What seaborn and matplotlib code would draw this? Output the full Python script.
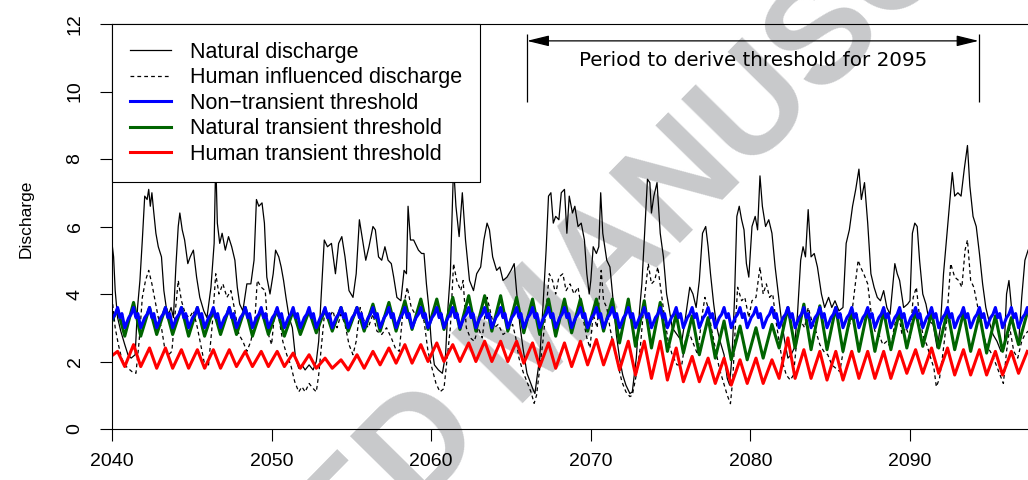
import numpy as np
import pandas as pd
import matplotlib
matplotlib.use("Agg")
import matplotlib.pyplot as plt
from matplotlib.lines import Line2D
import seaborn as sns

# ---------------- data ----------------
years = list(range(2040, 2098))

nat_t = [2040.0, 2040.1, 2040.2, 2040.35, 2040.55, 2040.8, 2041.0, 2041.2, 2041.45, 2041.6, 2041.75, 2041.9,
         2042.05, 2042.2, 2042.3, 2042.4, 2042.5, 2042.6, 2042.75, 2042.9, 2043.1, 2043.25, 2043.4, 2043.55,
         2043.7, 2043.85, 2044.0, 2044.15, 2044.25, 2044.4, 2044.55, 2044.75, 2044.9, 2045.1, 2045.3, 2045.5,
         2045.75, 2045.95, 2046.2, 2046.4, 2046.5, 2046.6, 2046.75, 2046.9, 2047.1, 2047.3, 2047.5, 2047.7,
         2047.85, 2048.0, 2048.2, 2048.45, 2048.7, 2048.9, 2049.05, 2049.2, 2049.4, 2049.55, 2049.7, 2049.9,
         2050.1, 2050.25, 2050.45, 2050.6, 2050.75, 2050.9, 2051.1, 2051.3, 2051.5, 2051.7, 2051.9, 2052.1,
         2052.35, 2052.6, 2052.8, 2052.95, 2053.15, 2053.3, 2053.5, 2053.75, 2054.0, 2054.2, 2054.4, 2054.6,
         2054.85, 2055.1, 2055.3, 2055.5, 2055.7, 2055.9, 2056.1, 2056.35, 2056.5, 2056.7, 2056.9, 2057.1,
         2057.3, 2057.5, 2057.65, 2057.85, 2058.1, 2058.3, 2058.45, 2058.55, 2058.7, 2058.9, 2059.2, 2059.4,
         2059.55, 2059.7, 2059.85, 2060.0, 2060.2, 2060.45, 2060.7, 2060.9, 2061.05, 2061.2, 2061.4, 2061.55,
         2061.75, 2061.95, 2062.15, 2062.4, 2062.65, 2062.85, 2063.1, 2063.3, 2063.5, 2063.65, 2063.85, 2064.1,
         2064.3, 2064.5, 2064.75, 2065.0, 2065.2, 2065.4, 2065.55, 2065.75, 2066.0, 2066.2, 2066.4, 2066.5,
         2066.65, 2066.8, 2067.0, 2067.2, 2067.35, 2067.5, 2067.65, 2067.8, 2068.0, 2068.15, 2068.35, 2068.5,
         2068.65, 2068.85, 2069.0, 2069.2, 2069.4, 2069.6, 2069.75, 2069.9, 2070.0, 2070.15, 2070.35, 2070.5,
         2070.62, 2070.75, 2071.0, 2071.2, 2071.4, 2071.6, 2071.8, 2072.0, 2072.2, 2072.45, 2072.6, 2072.85,
         2073.05, 2073.2, 2073.35, 2073.55, 2073.7, 2073.8, 2073.95, 2074.15, 2074.35, 2074.55, 2074.75, 2074.9,
         2075.1, 2075.4, 2075.7, 2075.9, 2076.2, 2076.4, 2076.6, 2076.8, 2077.0, 2077.2, 2077.35, 2077.5,
         2077.7, 2077.9, 2078.1, 2078.35, 2078.55, 2078.7, 2078.85, 2079.0, 2079.15, 2079.3, 2079.45, 2079.6,
         2079.75, 2079.9, 2080.1, 2080.3, 2080.45, 2080.6, 2080.75, 2080.95, 2081.15, 2081.35, 2081.55, 2081.75,
         2081.95, 2082.15, 2082.35, 2082.55, 2082.75, 2082.95, 2083.15, 2083.3, 2083.45, 2083.62, 2083.8, 2084.0,
         2084.2, 2084.45, 2084.65, 2084.9, 2085.1, 2085.3, 2085.55, 2085.8, 2086.0, 2086.2, 2086.4, 2086.6,
         2086.8, 2086.95, 2087.15, 2087.35, 2087.55, 2087.75, 2087.95, 2088.15, 2088.35, 2088.55, 2088.75, 2089.05,
         2089.2, 2089.35, 2089.6, 2089.85, 2090.0, 2090.15, 2090.3, 2090.45, 2090.6, 2090.8, 2091.0, 2091.2,
         2091.45, 2091.7, 2091.9, 2092.1, 2092.3, 2092.5, 2092.65, 2092.8, 2093.0, 2093.2, 2093.4, 2093.6,
         2093.75, 2093.95, 2094.15, 2094.35, 2094.55, 2094.75, 2094.95, 2095.2, 2095.45, 2095.7, 2095.9, 2096.05,
         2096.2, 2096.4, 2096.6, 2096.8, 2097.0, 2097.2, 2097.4]
nat_v = [5.5, 5.1, 4.1, 3.3, 2.9, 2.5, 2.2, 2.1, 2.2, 3.6, 4.4, 5.6,
         6.9, 6.8, 7.1, 6.6, 7.0, 6.5, 5.8, 5.4, 5.1, 4.1, 3.6, 3.4,
         3.6, 3.3, 4.8, 6.0, 6.4, 5.9, 5.6, 4.9, 5.1, 5.3, 4.5, 3.9,
         3.5, 3.3, 4.2, 5.5, 8.0, 6.1, 5.5, 5.8, 5.3, 5.7, 5.4, 5.0,
         4.2, 3.7, 3.5, 4.3, 4.3, 5.0, 6.8, 6.6, 6.7, 6.1, 4.5, 4.0,
         4.6, 5.3, 5.1, 4.8, 4.4, 3.9, 3.3, 3.0, 2.1, 1.8, 1.9, 1.75,
         1.9, 1.75, 2.0, 2.6, 4.3, 5.6, 5.4, 5.5, 4.6, 5.5, 5.7, 5.1,
         4.1, 3.9, 4.6, 6.2, 5.6, 5.0, 5.4, 6.0, 5.9, 5.1, 5.0, 5.4,
         5.0, 4.9, 4.5, 3.9, 3.8, 4.7, 4.6, 6.6, 5.6, 5.6, 5.3, 5.2,
         5.2, 4.3, 3.6, 2.6, 1.9, 1.75, 1.65, 2.2, 3.6, 4.6, 7.8, 6.6,
         5.7, 7.0, 5.6, 4.4, 4.1, 4.6, 4.8, 5.6, 6.1, 5.9, 5.1, 4.7,
         4.8, 4.4, 4.5, 4.7, 4.9, 3.8, 3.1, 2.4, 1.65, 1.4, 1.15, 1.05,
         1.6, 2.1, 3.6, 5.3, 6.9, 7.0, 6.1, 6.3, 6.2, 7.0, 7.1, 5.8,
         6.9, 6.4, 6.6, 6.0, 6.1, 5.6, 4.6, 4.0, 4.4, 5.4, 5.2, 5.4,
         7.0, 5.8, 5.0, 4.8, 3.8, 2.8, 2.1, 1.6, 1.3, 1.05, 1.1, 2.1,
         3.5, 4.3, 5.6, 7.4, 7.3, 6.4, 6.9, 7.3, 5.8, 5.1, 4.0, 3.6,
         3.0, 2.8, 2.6, 3.2, 4.2, 4.0, 3.6, 4.4, 5.8, 6.0, 5.4, 4.6,
         3.7, 3.0, 2.6, 2.2, 1.5, 1.3, 2.2, 3.8, 6.3, 6.6, 6.2, 5.9,
         4.9, 4.5, 6.0, 6.3, 5.9, 7.5, 6.6, 6.0, 6.2, 5.8, 4.8, 4.0,
         3.2, 2.6, 2.1, 2.2, 2.4, 3.4, 5.0, 5.4, 5.1, 6.5, 5.1, 5.2,
         4.8, 4.0, 3.6, 3.9, 3.6, 3.8, 3.5, 3.6, 5.5, 5.9, 6.6, 7.1,
         7.7, 6.8, 7.3, 6.1, 4.6, 4.2, 3.9, 3.8, 4.1, 3.6, 3.4, 4.9,
         4.6, 4.4, 3.6, 3.7, 3.8, 5.8, 6.1, 6.0, 5.0, 4.0, 3.7, 3.2,
         3.1, 2.4, 3.0, 4.6, 5.7, 6.8, 7.6, 6.9, 7.0, 6.9, 7.7, 8.4,
         7.2, 6.3, 6.0, 5.2, 4.3, 3.6, 3.2, 2.8, 2.6, 2.3, 2.4, 4.0,
         4.4, 3.4, 2.8, 2.5, 3.9, 5.0, 5.3]

hum_t = [2040.0, 2040.2, 2040.4, 2040.6, 2040.8, 2041.0, 2041.25, 2041.5, 2041.7, 2041.9, 2042.1, 2042.3,
         2042.5, 2042.7, 2042.9, 2043.1, 2043.3, 2043.55, 2043.75, 2043.95, 2044.15, 2044.35, 2044.6, 2044.85,
         2045.1, 2045.35, 2045.6, 2045.85, 2046.05, 2046.3, 2046.5, 2046.7, 2046.95, 2047.2, 2047.45, 2047.7,
         2047.95, 2048.2, 2048.45, 2048.7, 2048.95, 2049.1, 2049.35, 2049.6, 2049.8, 2050.0, 2050.2, 2050.45,
         2050.7, 2050.95, 2051.2, 2051.45, 2051.7, 2051.9, 2052.1, 2052.35, 2052.6, 2052.8, 2052.95, 2053.15,
         2053.35, 2053.6, 2053.85, 2054.1, 2054.35, 2054.6, 2054.85, 2055.1, 2055.3, 2055.55, 2055.8, 2056.05,
         2056.35, 2056.6, 2056.9, 2057.2, 2057.5, 2057.75, 2058.0, 2058.25, 2058.5, 2058.75, 2059.0, 2059.3,
         2059.55, 2059.8, 2060.05, 2060.3, 2060.55, 2060.8, 2061.0, 2061.2, 2061.4, 2061.6, 2061.85, 2062.0,
         2062.2, 2062.45, 2062.7, 2062.95, 2063.2, 2063.5, 2063.7, 2063.95, 2064.2, 2064.5, 2064.8, 2065.1,
         2065.3, 2065.5, 2065.75, 2066.0, 2066.25, 2066.45, 2066.6, 2066.75, 2067.0, 2067.25, 2067.4, 2067.6,
         2067.8, 2068.0, 2068.25, 2068.45, 2068.7, 2068.95, 2069.2, 2069.4, 2069.55, 2069.75, 2069.95, 2070.15,
         2070.4, 2070.65, 2070.8, 2071.0, 2071.2, 2071.45, 2071.7, 2071.95, 2072.2, 2072.45, 2072.6, 2072.85,
         2073.1, 2073.35, 2073.6, 2073.8, 2074.0, 2074.2, 2074.45, 2074.65, 2074.85, 2075.1, 2075.4, 2075.7,
         2075.95, 2076.2, 2076.45, 2076.7, 2076.95, 2077.15, 2077.35, 2077.55, 2077.8, 2078.05, 2078.3, 2078.55,
         2078.75, 2078.9, 2079.05, 2079.2, 2079.45, 2079.65, 2079.9, 2080.1, 2080.35, 2080.6, 2080.8, 2081.0,
         2081.2, 2081.4, 2081.6, 2081.8, 2082.0, 2082.25, 2082.5, 2082.7, 2082.9, 2083.15, 2083.4, 2083.62,
         2083.85, 2084.1, 2084.35, 2084.6, 2084.85, 2085.1, 2085.35, 2085.6, 2085.85, 2086.05, 2086.3, 2086.5,
         2086.75, 2086.9, 2087.1, 2087.35, 2087.55, 2087.8, 2088.05, 2088.3, 2088.55, 2088.8, 2089.0, 2089.25,
         2089.5, 2089.75, 2090.0, 2090.2, 2090.4, 2090.6, 2090.85, 2091.05, 2091.3, 2091.5, 2091.65, 2091.85,
         2092.05, 2092.3, 2092.55, 2092.8, 2093.05, 2093.25, 2093.45, 2093.6, 2093.8, 2094.0, 2094.25, 2094.45,
         2094.65, 2094.9, 2095.15, 2095.4, 2095.6, 2095.85, 2096.05, 2096.25, 2096.5, 2096.75, 2097.0, 2097.2,
         2097.4]
hum_v = [3.9, 3.0, 2.5, 2.1, 1.9, 1.8, 1.7, 1.65, 2.6, 3.9, 4.4, 4.7,
         4.3, 3.8, 3.3, 3.0, 2.4, 2.2, 2.3, 3.4, 4.4, 3.8, 3.4, 3.3,
         3.5, 3.0, 2.4, 1.8, 1.9, 3.2, 4.6, 4.0, 4.3, 3.9, 4.1, 3.5,
         2.8, 2.6, 2.3, 2.6, 3.2, 4.4, 4.2, 4.1, 2.8, 2.5, 3.5, 3.3,
         2.6, 2.2, 1.9, 1.4, 1.1, 1.25, 1.1, 1.35, 1.2, 1.1, 1.6, 2.6,
         3.6, 3.3, 3.5, 3.0, 3.4, 3.1, 2.5, 2.2, 2.6, 3.6, 3.2, 3.0,
         3.4, 2.9, 2.8, 3.0, 2.7, 2.4, 2.3, 3.6, 4.2, 3.6, 3.4, 3.5,
         3.2, 2.3, 1.8, 1.35, 1.1, 1.2, 2.1, 3.0, 4.9, 4.4, 4.1, 4.4,
         3.0, 2.7, 2.6, 3.0, 2.7, 3.9, 3.5, 3.0, 3.1, 2.8, 2.9, 3.1,
         2.7, 2.1, 1.7, 1.4, 1.1, 0.76, 1.0, 1.6, 2.6, 3.8, 4.6, 4.4,
         4.0, 4.5, 4.6, 4.1, 4.3, 4.0, 4.2, 3.6, 3.2, 2.7, 2.4, 3.4,
         3.0, 4.7, 3.8, 3.6, 3.0, 2.4, 1.9, 1.4, 1.1, 0.96, 1.0, 1.6,
         2.4, 3.8, 4.9, 4.3, 4.4, 4.8, 3.9, 3.2, 2.6, 2.2, 1.9, 1.9,
         2.7, 2.8, 2.5, 2.2, 3.3, 3.9, 3.6, 3.0, 2.4, 1.8, 1.4, 1.0,
         0.75, 1.5, 3.0, 4.2, 3.8, 3.9, 3.3, 3.8, 3.9, 4.8, 4.0, 4.3,
         3.9, 4.0, 3.2, 2.6, 2.0, 1.6, 1.45, 1.6, 2.6, 3.2, 3.0, 3.6,
         3.2, 2.9, 2.5, 2.3, 2.2, 1.9, 1.8, 1.7, 2.4, 2.9, 3.2, 4.0,
         5.0, 4.8, 4.6, 4.3, 3.5, 2.9, 2.8, 2.5, 2.6, 2.4, 3.0, 3.5,
         2.8, 3.0, 2.7, 3.9, 4.2, 3.3, 2.7, 2.5, 2.1, 1.8, 1.25, 1.5,
         2.2, 3.2, 4.9, 4.5, 4.4, 4.2, 5.3, 5.6, 4.4, 4.2, 3.6, 3.2,
         2.7, 2.4, 2.2, 1.9, 1.65, 1.35, 2.3, 3.0, 2.3, 2.1, 2.6, 2.8,
         2.9]

# seasonal cycle of the non-transient threshold (same every year)
blue_phase = [-0.2, 0.05, 0.2, 0.35, 0.5, 0.62]
blue_cycle = [3.0, 3.3, 3.4, 3.6, 3.3, 3.42]

# yearly peak / trough of the transient thresholds (2040 ... 2097)
green_hi = [3.55, 3.75, 3.6, 3.6, 3.6, 3.6, 3.55, 3.6, 3.6, 3.55,
            3.55, 3.5, 3.5, 3.55, 3.6, 3.6, 3.7, 3.75, 3.8, 3.85,
            3.85, 3.9, 3.95, 3.95, 3.95, 3.9, 3.85, 3.85, 3.85, 3.85,
            3.85, 3.85, 3.85, 3.8, 3.75, 3.4, 3.35, 3.3, 3.2, 3.05,
            3.0, 3.1, 3.6, 3.7, 3.65, 3.6, 3.55, 3.55, 3.5, 3.5,
            3.5, 3.45, 3.5, 3.45, 3.4, 3.35, 3.3, 3.45]
green_lo = [3.0, 2.75, 2.75, 2.8, 2.8, 2.75, 2.75, 2.8, 2.8, 2.75,
            2.8, 2.75, 2.8, 2.85, 2.9, 2.9, 2.9, 2.9, 2.9, 2.95,
            2.95, 2.95, 2.95, 2.9, 2.9, 2.9, 2.85, 2.8, 2.75, 2.85,
            2.9, 2.9, 2.55, 2.45, 2.4, 2.3, 2.25, 2.2, 2.1, 2.05,
            2.05, 2.1, 2.4, 2.4, 2.35, 2.35, 2.3, 2.3, 2.3, 2.35,
            2.4, 2.45, 2.4, 2.35, 2.3, 2.25, 2.3, 2.5]
red_hi = [2.3, 2.5, 2.4, 2.4, 2.35, 2.35, 2.35, 2.35, 2.3, 2.3,
          2.3, 2.25, 2.2, 2.1, 2.05, 2.2, 2.3, 2.4, 2.5, 2.5,
          2.55, 2.5, 2.55, 2.6, 2.6, 2.6, 2.55, 2.55, 2.55, 2.6,
          2.65, 2.65, 2.6, 2.6, 2.6, 2.4, 2.15, 2.1, 2.1, 2.05,
          2.1, 2.05, 2.7, 2.35, 2.3, 2.3, 2.3, 2.3, 2.3, 2.3,
          2.35, 2.4, 2.4, 2.35, 2.35, 2.3, 2.3, 2.3]
red_lo = [2.1, 1.85, 1.85, 1.8, 1.8, 1.8, 1.8, 1.8, 1.85, 1.85,
          1.85, 1.85, 1.8, 1.8, 1.8, 1.75, 1.8, 1.9, 1.95, 1.95,
          2.0, 2.0, 2.0, 2.0, 2.0, 2.0, 1.95, 1.85, 1.8, 1.85,
          1.9, 1.9, 1.75, 1.6, 1.5, 1.45, 1.4, 1.4, 1.35, 1.3,
          1.35, 1.35, 1.5, 1.5, 1.5, 1.45, 1.45, 1.5, 1.5, 1.5,
          1.65, 1.65, 1.65, 1.6, 1.6, 1.6, 1.6, 1.65]
trough_phase = -0.2
peak_phase = 0.35

legend_labels = ["Natural discharge", "Human influenced discharge", "Non\u2212transient threshold",
                 "Natural transient threshold", "Human transient threshold"]
x_ticks = [2040, 2050, 2060, 2070, 2080, 2090]
y_ticks = [0, 2, 4, 6, 8, 10, 12]
y_label = "Discharge"
period_start, period_end = 2066.0, 2094.3
period_label = "Period to derive threshold for 2095"
watermark = "ACCEPTED MANUSCRIPT"

# ---------------- frames ----------------
yrs = np.array(years, dtype=float)
df_nat = pd.DataFrame({"t": nat_t, "v": nat_v})
df_hum = pd.DataFrame({"t": hum_t, "v": hum_v})
df_blue = pd.DataFrame({"t": (yrs[:, None] + np.array(blue_phase)[None, :]).ravel(),
                        "v": np.tile(blue_cycle, len(yrs))})


def zigzag(lo, hi):
    t = np.column_stack([yrs + trough_phase, yrs + peak_phase]).ravel()
    v = np.column_stack([lo, hi]).ravel()
    return pd.DataFrame({"t": t, "v": v})


df_green = zigzag(green_lo, green_hi)
df_red = zigzag(red_lo, red_hi)

# ---------------- figure ----------------
plt.rcParams["font.family"] = ["Liberation Sans", "DejaVu Sans"]
fig = plt.figure(figsize=(10.28, 4.8), dpi=100)
fig.patch.set_facecolor("white")
ax = fig.add_axes([112 / 1028, 51 / 480, 957.6 / 1028, 405 / 480])
ax.set_facecolor("none")

fig.text(0.52, 0.296, watermark, rotation=45.5, rotation_mode="anchor", ha="center", va="center",
         fontsize=104, fontweight="bold", color="#c8c9cb", zorder=-5, family="Liberation Sans")

c_nat, c_blue, c_green, c_red = "black", "#0000ff", "#006400", "#ff0000"
sns.lineplot(data=df_nat, x="t", y="v", ax=ax, color=c_nat, lw=0.9, estimator=None, sort=False)
sns.lineplot(data=df_hum, x="t", y="v", ax=ax, color=c_nat, lw=0.9, estimator=None, sort=False)
ax.lines[-1].set_dashes([3.0, 2.5])
sns.lineplot(data=df_green, x="t", y="v", ax=ax, color=c_green, lw=2.2, estimator=None, sort=False)
sns.lineplot(data=df_blue, x="t", y="v", ax=ax, color=c_blue, lw=2.2, estimator=None, sort=False)
sns.lineplot(data=df_red, x="t", y="v", ax=ax, color=c_red, lw=2.2, estimator=None, sort=False)

ax.set_xlim(2040, 2100)
ax.set_ylim(0, 12)
ax.set_xticks(x_ticks)
ax.set_yticks(y_ticks)
ax.set_xticklabels([str(v) for v in x_ticks])
ax.set_yticklabels([str(v) for v in y_ticks], rotation=90, va="center")
ax.tick_params(axis="both", direction="out", length=8.5, width=0.8, labelsize=14, color="black")
ax.tick_params(axis="x", pad=9)
ax.tick_params(axis="y", pad=12)
ax.set_xlabel("")
ax.set_ylabel("")
ax.text(-0.09, 0.52, y_label, rotation=90, ha="center", va="center", fontsize=12.5, transform=ax.transAxes)
for s in ax.spines.values():
    s.set_linewidth(0.8)
    s.set_color("black")

# period annotation
ax.vlines([period_start, period_end], 9.7, 11.7, color="black", lw=0.9)
ax.annotate("", xy=(period_start, 11.5), xytext=(period_end, 11.5),
            arrowprops=dict(arrowstyle="<|-|>,head_length=0.9,head_width=0.22", mutation_scale=15,
                            color="black", lw=0.9, shrinkA=0, shrinkB=0))
ax.text((period_start + period_end) / 2, 10.93, period_label, ha="center", va="center",
        fontsize=14.3, family="DejaVu Sans")

handles = [Line2D([], [], color=c_nat, lw=0.9),
           Line2D([], [], color=c_nat, lw=0.9, dashes=[3.0, 2.5]),
           Line2D([], [], color=c_blue, lw=2.2),
           Line2D([], [], color=c_green, lw=2.2),
           Line2D([], [], color=c_red, lw=2.2)]
leg = ax.legend(handles, legend_labels, loc="upper left", bbox_to_anchor=(0, 1), borderaxespad=0,
                fontsize=15.5, frameon=True, fancybox=False, framealpha=1, edgecolor="black",
                handlelength=1.92, handletextpad=0.9, borderpad=0.82, labelspacing=0.21)
leg.get_frame().set_linewidth(0.8)
leg.set_zorder(10)

fig.savefig("out.png", dpi=100)
